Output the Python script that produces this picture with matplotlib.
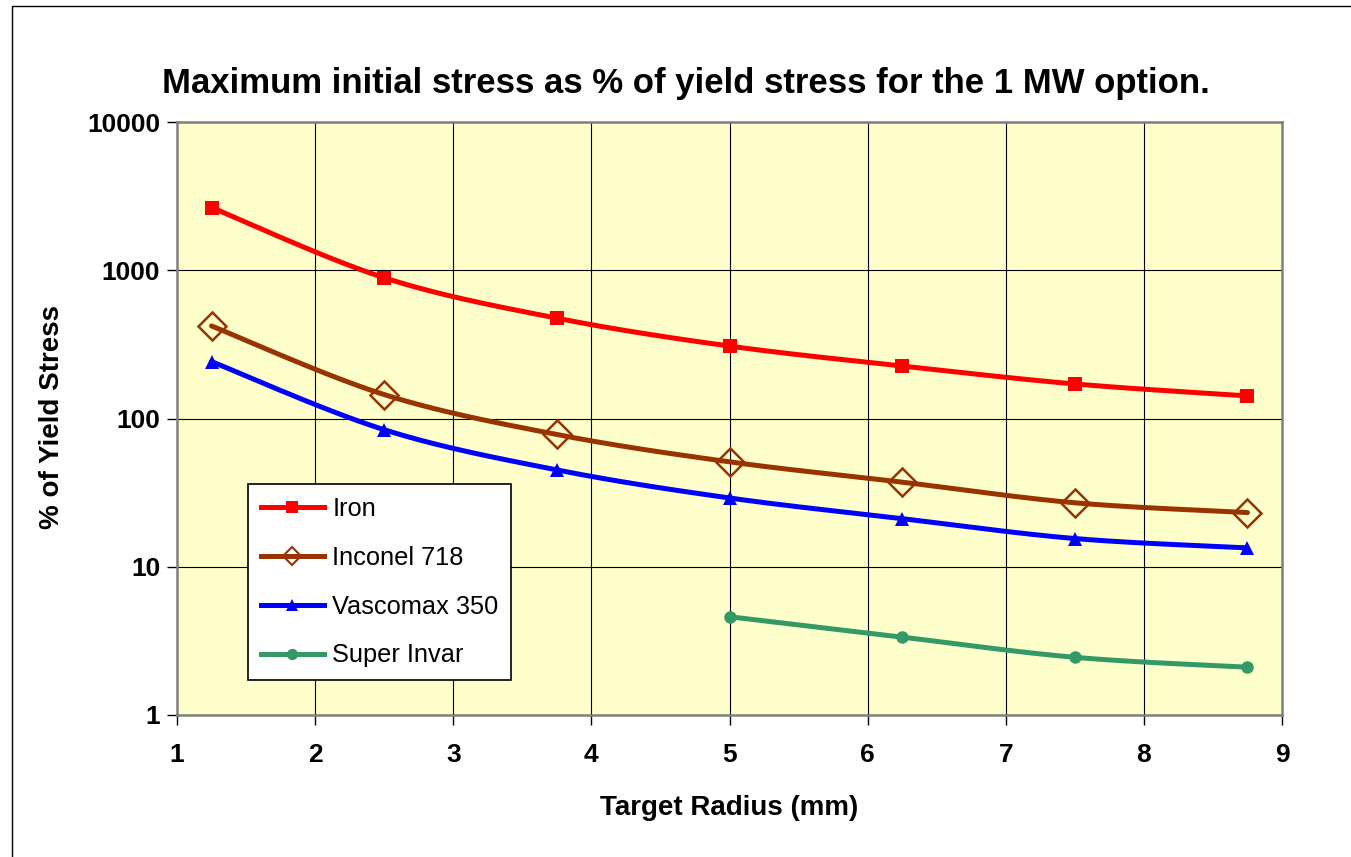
import numpy as np
import matplotlib
matplotlib.use("Agg")
import matplotlib.pyplot as plt
from matplotlib.patches import Rectangle

plt.rcParams['font.family'] = ['Liberation Sans', 'DejaVu Sans']

# Target radius (mm)
radius = [1.25, 2.5, 3.75, 5.0, 6.25, 7.5, 8.75]
radius_invar = [5.0, 6.25, 7.5, 8.75]

# Maximum initial stress as % of yield stress
iron = [2650, 890, 475, 308, 226, 171, 142]
inconel = [421, 145, 78, 51, 37.2, 27, 23.2]
vascomax = [242, 84, 45, 29.1, 21.1, 15.5, 13.4]
super_invar = [4.6, 3.35, 2.45, 2.1]

series_names = ["Iron", "Inconel 718", "Vascomax 350", "Super Invar"]
x_ticks = [1, 2, 3, 4, 5, 6, 7, 8, 9]
y_ticks = [1, 10, 100, 1000, 10000]


def smooth_curve(xs, ys, n=40):
    """Bezier smoothing through points in (x, log10 y) space."""
    px = np.asarray(xs, float)
    py = np.log10(np.asarray(ys, float))
    m = len(px)
    outx, outy = [], []
    for i in range(m - 1):
        p0 = np.array([px[i], py[i]])
        p3 = np.array([px[i + 1], py[i + 1]])
        pm = np.array([px[i - 1], py[i - 1]]) if i > 0 else p0
        pn = np.array([px[i + 2], py[i + 2]]) if i + 2 < m else p3
        c1 = p0 + (p3 - pm) / 6.0
        c2 = p3 - (pn - p0) / 6.0
        t = np.linspace(0, 1, n)[:, None]
        b = ((1 - t) ** 3) * p0 + 3 * ((1 - t) ** 2) * t * c1 + 3 * (1 - t) * t ** 2 * c2 + t ** 3 * p3
        if i > 0:
            b = b[1:]
        outx.extend(b[:, 0])
        outy.extend(b[:, 1])
    return np.array(outx), 10 ** np.array(outy)


W, H = 1351, 857
fig = plt.figure(figsize=(W / 100, H / 100), dpi=100)
fig.patch.set_facecolor("white")

# outer chart border
fig.add_artist(Rectangle((12 / W, -0.01), 1.1, 1 - 6 / H + 0.01, transform=fig.transFigure,
                         fill=False, edgecolor="black", linewidth=1.0))

ax = fig.add_axes([177 / W, 1 - 715 / H, (1282 - 177) / W, (715 - 122) / H])
ax.set_facecolor("#FFFFCC")
ax.set_yscale("log")
ax.set_xlim(1, 9)
ax.set_ylim(1, 10000)

ax.grid(True, which="major", color="black", linewidth=0.8)
ax.set_axisbelow(True)
ax.minorticks_off()
ax.set_xticks(x_ticks)
ax.set_xticklabels([str(v) for v in x_ticks])
ax.set_yticks(y_ticks)
ax.set_yticklabels([str(v) for v in y_ticks])
ax.tick_params(axis="both", which="major", direction="out", length=7, width=1,
               color="black", labelsize=19)
ax.tick_params(axis="y", pad=5)
ax.tick_params(axis="x", pad=13.5)
for lab in ax.get_xticklabels() + ax.get_yticklabels():
    lab.set_fontweight("bold")
for side in ax.spines.values():
    side.set_color("#808080")
    side.set_linewidth(1.8)

lw = 3.6
specs = [
    (radius, iron, "#FF0000", dict(marker="s", ms=9.5, mfc="#FF0000", mec="#FF0000", mew=0)),
    (radius, inconel, "#993300", dict(marker="D", ms=14.5, mfc="none", mec="#993300", mew=1.8)),
    (radius, vascomax, "#0000FF", dict(marker="^", ms=9.5, mfc="#0000FF", mec="#0000FF", mew=0)),
    (radius_invar, super_invar, "#339966", dict(marker="o", ms=9, mfc="#339966", mec="#339966", mew=0)),
]
handles = []
for (xs, ys, col, mk), name in zip(specs, series_names):
    sx, sy = smooth_curve(xs, ys)
    ax.plot(sx, sy, color=col, linewidth=lw, solid_capstyle="round", zorder=3)
    ax.plot(xs, ys, linestyle="none", zorder=4, **mk)
    leg_mk = dict(mk)
    if mk["marker"] == "D":
        leg_mk["ms"] = 9
        leg_mk["mew"] = 1.5
    else:
        leg_mk["ms"] = mk["ms"] * 0.9
    h, = ax.plot([], [], color=col, linewidth=lw, **leg_mk)
    handles.append(h)

leg = fig.legend(handles, series_names, loc="upper left",
                 bbox_to_anchor=(248 / W, 1 - 484 / H), bbox_transform=fig.transFigure,
                 frameon=True, fancybox=False, edgecolor="black", facecolor="white",
                 framealpha=1, fontsize=18.3, handlelength=2.5, handletextpad=0.32,
                 labelspacing=0.98, borderpad=0.5, borderaxespad=0, numpoints=1)
leg.get_frame().set_linewidth(1.2)
leg.set_zorder(10)

fig.text(686 / W, 1 - 83 / H, "Maximum initial stress as % of yield stress for the 1 MW option.",
         ha="center", va="center", fontsize=25, fontweight="bold")
fig.text(729.5 / W, 1 - 808 / H, "Target Radius (mm)", ha="center", va="center",
         fontsize=20, fontweight="bold")
fig.text(52 / W, 1 - 417 / H, "% of Yield Stress", ha="center", va="center",
         rotation=90, fontsize=20, fontweight="bold")

fig.savefig("out.png", dpi=100, facecolor="white")
